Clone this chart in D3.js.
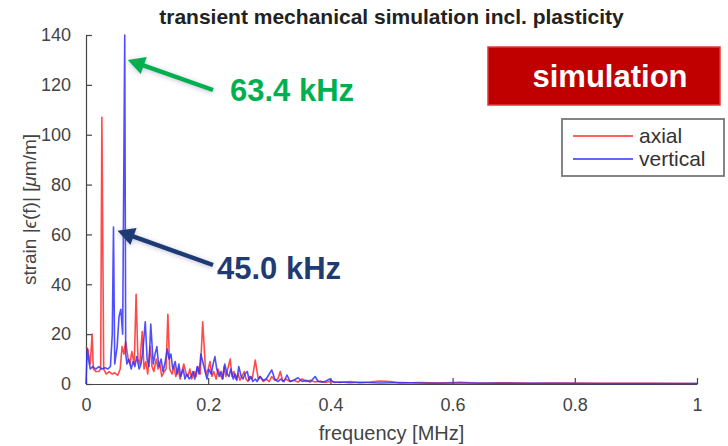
<!DOCTYPE html>
<html>
<head>
<meta charset="utf-8">
<script src="https://cdn.jsdelivr.net/npm/d3@7"></script>
<style>
  body { margin: 0; background: #fff; }
  text { font-family: 'Liberation Sans', Arial, sans-serif; }
</style>
</head>
<body>
<div id="chart"></div>
<script>
// frequency in MHz, strain in um/m
const axialFreq = [0, 0.003, 0.007, 0.010, 0.012, 0.016, 0.021, 0.024, 0.026, 0.029,
  0.033, 0.038, 0.043, 0.047, 0.052, 0.056, 0.059, 0.062, 0.065, 0.069,
  0.072, 0.075, 0.079, 0.082, 0.085, 0.088, 0.092, 0.095, 0.098, 0.101,
  0.105, 0.108, 0.111, 0.115, 0.118, 0.121, 0.124, 0.128, 0.131, 0.134,
  0.137, 0.141, 0.144, 0.147, 0.151, 0.154, 0.157, 0.160, 0.164, 0.167,
  0.170, 0.173, 0.177, 0.180, 0.183, 0.187, 0.191, 0.196, 0.200, 0.203,
  0.206, 0.209, 0.213, 0.216, 0.219, 0.223, 0.226, 0.229, 0.232, 0.236,
  0.239, 0.242, 0.245, 0.249, 0.252, 0.255, 0.259, 0.262, 0.265, 0.268,
  0.272, 0.277, 0.282, 0.285, 0.290, 0.295, 0.300, 0.304, 0.309, 0.314,
  0.318, 0.322, 0.327, 0.334, 0.340, 0.347, 0.354, 0.360, 0.367, 0.375,
  0.383, 0.391, 0.399, 0.416, 0.432, 0.448, 0.465, 0.481, 0.498, 0.514,
  0.547, 0.579, 0.612, 0.645, 0.678, 0.727, 0.776, 0.841, 0.923, 1.0]
const axialStrain = [15, 14, 8, 20, 6, 5, 5, 6, 107, 6,
  4, 5, 4, 4.5, 3.5, 6, 15, 12, 17, 10,
  8, 13, 8, 36, 10, 8, 21, 6, 9, 4,
  15, 7, 5, 10, 6, 8, 3, 5, 6, 28,
  6, 4, 7, 3, 6, 2, 5, 8, 4, 3,
  6, 2, 5, 3, 7, 4, 25, 4, 6, 9,
  3, 5, 2, 6, 4, 2, 7, 3, 6, 10,
  3, 5, 2, 4, 1.5, 3, 5, 2, 1, 3,
  2, 9.6, 2, 3, 1, 2, 1, 3, 1.5, 2,
  5, 1, 2, 1, 1.5, 0.8, 2, 1, 1.5, 0.8,
  1.2, 0.6, 1, 0.6, 1, 0.5, 0.8, 1.2, 1, 0.4,
  0.6, 0.4, 0.7, 0.3, 0.5, 0.3, 0.4, 0.3, 0.3, 0.2]

const verticalFreq = [0, 0.002, 0.004, 0.007, 0.011, 0.016, 0.021, 0.026, 0.031, 0.036,
  0.040, 0.043, 0.045, 0.047, 0.051, 0.054, 0.057, 0.060, 0.0634, 0.065,
  0.067, 0.070, 0.074, 0.077, 0.080, 0.083, 0.087, 0.090, 0.093, 0.097,
  0.100, 0.103, 0.106, 0.110, 0.113, 0.116, 0.119, 0.123, 0.126, 0.129,
  0.133, 0.136, 0.139, 0.142, 0.146, 0.149, 0.152, 0.155, 0.159, 0.162,
  0.165, 0.169, 0.172, 0.175, 0.178, 0.182, 0.185, 0.188, 0.191, 0.195,
  0.198, 0.201, 0.205, 0.208, 0.211, 0.214, 0.218, 0.221, 0.224, 0.227,
  0.231, 0.234, 0.237, 0.241, 0.244, 0.247, 0.250, 0.254, 0.257, 0.260,
  0.264, 0.267, 0.270, 0.273, 0.277, 0.280, 0.285, 0.290, 0.295, 0.300,
  0.304, 0.309, 0.314, 0.319, 0.324, 0.329, 0.334, 0.340, 0.347, 0.354,
  0.360, 0.367, 0.375, 0.380, 0.386, 0.393, 0.399, 0.406, 0.416, 0.432,
  0.448, 0.481, 0.514, 0.563, 0.612, 0.678, 0.759, 0.841, 0.923, 1.0]
const verticalStrain = [0, 14, 10, 6, 7, 6, 7, 6, 6.5, 6,
  7, 20, 63, 8, 15, 27, 30, 20, 140, 12,
  8, 10, 6, 9, 7, 11, 6, 8, 13, 25,
  10, 7, 24, 8, 12, 15, 7, 10, 5, 8,
  14, 10, 12, 6, 9, 4, 8, 3, 6, 2,
  4, 2, 3, 5, 2, 7, 4, 12, 9, 5,
  2, 6, 4, 8, 11, 6, 3, 5, 2, 8,
  4, 3, 6, 2, 4, 1.5, 7, 3, 2, 4,
  5, 1.5, 3, 1, 2, 1, 3, 1.5, 2, 4,
  5.6, 2, 1, 2, 1, 3.6, 1, 1.5, 2.5, 1,
  1.5, 0.8, 3, 1, 0.7, 1.2, 2, 0.6, 0.8, 0.5,
  0.7, 0.4, 0.6, 0.3, 0.4, 0.3, 0.3, 0.2, 0.2, 0.2]

const xTicks = [0, 0.2, 0.4, 0.6, 0.8, 1]
const yTicks = [0, 20, 40, 60, 80, 100, 120, 140]
const seriesNames = ['axial', 'vertical']
const seriesColors = ['#ff2a2a', '#3030ff']

const W = 728, H = 446
const margin = { left: 86, right: 31, top: 35, bottom: 62 }
const width = W - margin.left - margin.right
const height = H - margin.top - margin.bottom

const svg = d3.select('#chart').append('svg')
  .attr('width', W)
  .attr('height', H)

const defs = svg.append('defs')
const glow = defs.append('filter').attr('id', 'glow')
  .attr('x', '-20%').attr('y', '-40%').attr('width', '140%').attr('height', '180%')
glow.append('feDropShadow')
  .attr('dx', 0).attr('dy', 1).attr('stdDeviation', 2.5)
  .attr('flood-color', '#7070b0').attr('flood-opacity', 0.45)

const g = svg.append('g')
  .attr('transform', `translate(${margin.left}, ${margin.top})`)

const x = d3.scaleLinear().domain([0, 1]).range([0, width])
const y = d3.scaleLinear().domain([0, 140]).range([height, 0])

// axes, ticks inward, no box
const xAxis = g.append('g')
  .attr('transform', `translate(0, ${height})`)
  .call(d3.axisBottom(x).tickValues(xTicks).tickFormat(d3.format('~g'))
    .tickSizeInner(-6).tickSizeOuter(0).tickPadding(14))
const yAxis = g.append('g')
  .call(d3.axisLeft(y).tickValues(yTicks)
    .tickSizeInner(-6).tickSizeOuter(0).tickPadding(15))

;[xAxis, yAxis].forEach(a => {
  a.select('.domain').attr('stroke', '#444').attr('stroke-width', 1.2)
  a.selectAll('.tick line').attr('stroke', '#444').attr('stroke-width', 1.2)
  a.selectAll('.tick text')
    .attr('font-size', '18px')
    .attr('fill', '#444')
    .style('font-family', "'Liberation Sans', Arial, sans-serif")
})

// series
const line = d3.line()
  .x(d => x(d[0]))
  .y(d => y(d[1]))

const series = [
  d3.zip(axialFreq, axialStrain),
  d3.zip(verticalFreq, verticalStrain),
]
series.forEach((s, i) => {
  g.append('path')
    .datum(s)
    .attr('fill', 'none')
    .attr('stroke', seriesColors[i])
    .attr('stroke-opacity', 0.85)
    .attr('stroke-width', 1.6)
    .attr('stroke-linejoin', 'round')
    .attr('d', line)
})

// title
svg.append('text')
  .attr('x', margin.left + width / 2)
  .attr('y', 24)
  .attr('text-anchor', 'middle')
  .attr('font-size', '21px')
  .attr('font-weight', 'bold')
  .attr('fill', '#222')
  .text('transient mechanical simulation incl. plasticity')

// x label
svg.append('text')
  .attr('x', margin.left + width / 2)
  .attr('y', 440)
  .attr('text-anchor', 'middle')
  .attr('font-size', '20px')
  .attr('fill', '#444')
  .text('frequency [MHz]')

// y label
const yl = svg.append('text')
  .attr('text-anchor', 'middle')
  .attr('font-size', '19px')
  .attr('fill', '#444')
  .attr('transform', `translate(36, ${margin.top + height / 2}) rotate(-90)`)
yl.append('tspan').text('strain |')
yl.append('tspan').attr('font-style', 'italic').text('ϵ')
yl.append('tspan').text('(f)| [')
yl.append('tspan').attr('font-style', 'italic').text('μ')
yl.append('tspan').text('m/m]')

// legend
const legend = svg.append('g').attr('transform', 'translate(562, 119)')
legend.append('rect')
  .attr('width', 162).attr('height', 57)
  .attr('fill', '#fff')
  .attr('stroke', '#777').attr('stroke-width', 1.8)
seriesNames.forEach((n, i) => {
  const row = legend.append('g').attr('transform', `translate(0, ${17 + i * 23})`)
  row.append('line')
    .attr('x1', 11).attr('x2', 71)
    .attr('stroke', seriesColors[i]).attr('stroke-opacity', 0.75)
    .attr('stroke-width', 2.2)
  row.append('text')
    .attr('x', 77).attr('y', 7)
    .attr('font-size', '21px')
    .attr('fill', '#333')
    .text(n)
})

// "simulation" badge
const badge = svg.append('g').attr('transform', 'translate(488, 47)')
badge.append('rect')
  .attr('width', 232).attr('height', 58)
  .attr('fill', '#c00000')
  .attr('stroke', '#e23a3a').attr('stroke-width', 1.5)
badge.append('text')
  .attr('x', 122).attr('y', 40)
  .attr('text-anchor', 'middle')
  .attr('font-size', '31px')
  .attr('font-weight', 'bold')
  .attr('fill', '#fff')
  .text('simulation')

// annotation arrows
function arrow(tail, tip, color) {
  const dx = tip[0] - tail[0], dy = tip[1] - tail[1]
  const len = Math.hypot(dx, dy)
  const ux = dx / len, uy = dy / len
  const hl = 17, hw = 9
  const bx = tip[0] - ux * hl, by = tip[1] - uy * hl
  const a = svg.append('g').attr('filter', 'url(#glow)')
  a.append('line')
    .attr('x1', tail[0]).attr('y1', tail[1])
    .attr('x2', bx + ux * 2).attr('y2', by + uy * 2)
    .attr('stroke', color).attr('stroke-width', 4.5)
  a.append('path')
    .attr('d', `M${tip[0]},${tip[1]}L${bx - uy * hw},${by + ux * hw}L${bx + uy * hw},${by - ux * hw}Z`)
    .attr('fill', color)
}

const green = '#00b050'
const navy = '#1f3b73'
arrow([213, 90], [margin.left + x(0.0634) + 3, margin.top + y(130)], green)
arrow([213, 265], [margin.left + x(0.045) + 4, margin.top + y(61.5)], navy)

svg.append('text')
  .attr('x', 230).attr('y', 101)
  .attr('font-size', '31px').attr('font-weight', 'bold')
  .attr('fill', green)
  .text('63.4 kHz')
svg.append('text')
  .attr('x', 217).attr('y', 279)
  .attr('font-size', '31px').attr('font-weight', 'bold')
  .attr('fill', navy)
  .text('45.0 kHz')
</script>
</body>
</html>
